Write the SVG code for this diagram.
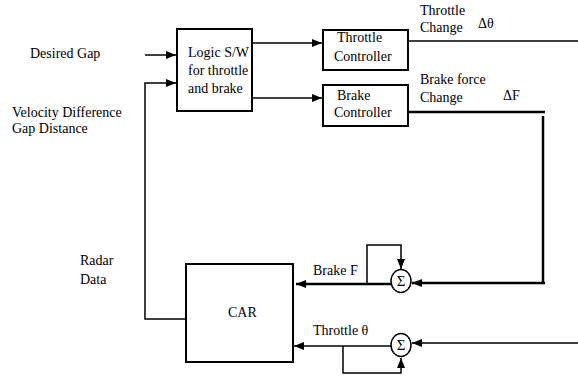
<svg xmlns="http://www.w3.org/2000/svg" width="578" height="387" viewBox="0 0 578 387" font-family="'Liberation Serif', 'DejaVu Serif', serif">
<defs>
<marker id="ah" viewBox="0 0 10 8" refX="10" refY="4" markerWidth="10" markerHeight="8" markerUnits="userSpaceOnUse" orient="auto">
<path d="M0,0 L10,4 L0,8 Z" fill="#000"/>
</marker>
</defs>
<style>
text{font-family:'Liberation Serif','Times New Roman',serif;font-size:14px;fill:#000}
.box{fill:#fff;stroke:#000;stroke-width:2}
.ln{fill:none;stroke:#000;stroke-width:1.5}
.thk{fill:none;stroke:#000;stroke-width:2.5}
.sum{fill:#fff;stroke:#000;stroke-width:1.5}
.sg{font-size:15px;text-anchor:middle}
</style>
<rect width="578" height="387" fill="#fff"/>
<g id="connectors">
<line class="ln" x1="145" y1="55" x2="176" y2="55" marker-end="url(#ah)"/>
<polyline class="ln" points="186,319 145,319 145,83 176,83" marker-end="url(#ah)"/>
<line class="ln" x1="252" y1="43" x2="322" y2="43" marker-end="url(#ah)"/>
<line class="ln" x1="252" y1="98" x2="322" y2="98" marker-end="url(#ah)"/>
<line class="ln" x1="383" y1="41" x2="578" y2="41"/>
<line class="thk" x1="408" y1="112" x2="545" y2="112"/>
<line class="thk" x1="543" y1="116" x2="543" y2="283"/>
<line class="thk" x1="545" y1="283" x2="412" y2="283" marker-end="url(#ah)"/>
<line class="thk" x1="391" y1="284" x2="296" y2="284" marker-end="url(#ah)"/>
<polyline class="ln" points="367,284 367,245 401,245 401,269" marker-end="url(#ah)"/>
<line class="ln" x1="578" y1="343" x2="412" y2="343" marker-end="url(#ah)"/>
<line class="ln" x1="391" y1="346" x2="294" y2="346" marker-end="url(#ah)"/>
<polyline class="ln" points="343,346 343,373 401,373 401,358" marker-end="url(#ah)"/>
</g>
<g id="labels">
<text x="30" y="58">Desired Gap</text>
<text x="12" y="117">Velocity Difference</text>
<text x="12" y="133">Gap Distance</text>
<text x="80" y="265">Radar</text>
<text x="80" y="284">Data</text>
<text x="420" y="15">Throttle</text>
<text x="420" y="32">Change</text>
<text x="478" y="28">Δθ</text>
<text x="420" y="84">Brake force</text>
<text x="420" y="102">Change</text>
<text x="503" y="100">ΔF</text>
<text x="313" y="275">Brake F</text>
<text x="313" y="335">Throttle θ</text>
</g>
<g id="logic">
<rect class="box" x="177" y="29" width="75" height="82"/>
<text x="188" y="57">Logic S/W</text>
<text x="188" y="75">for throttle</text>
<text x="188" y="93">and brake</text>
</g>
<g id="throttle-controller">
<rect class="box" x="323" y="30" width="85" height="40"/>
<text x="337" y="42">Throttle</text>
<text x="334" y="61">Controller</text>
</g>
<g id="brake-controller">
<rect class="box" x="323" y="85" width="85" height="41"/>
<text x="337" y="100">Brake</text>
<text x="334" y="117">Controller</text>
</g>
<g id="car">
<rect class="box" x="186" y="264" width="107" height="98" stroke-width="1.5"/>
<text x="228" y="317">CAR</text>
</g>
<g id="sum-brake">
<ellipse class="sum" cx="401" cy="281" rx="10" ry="11.5"/>
<text class="sg" x="401" y="286">Σ</text>
</g>
<g id="sum-throttle">
<ellipse class="sum" cx="401" cy="345" rx="10" ry="11.5"/>
<text class="sg" x="401" y="350">Σ</text>
</g>
</svg>
